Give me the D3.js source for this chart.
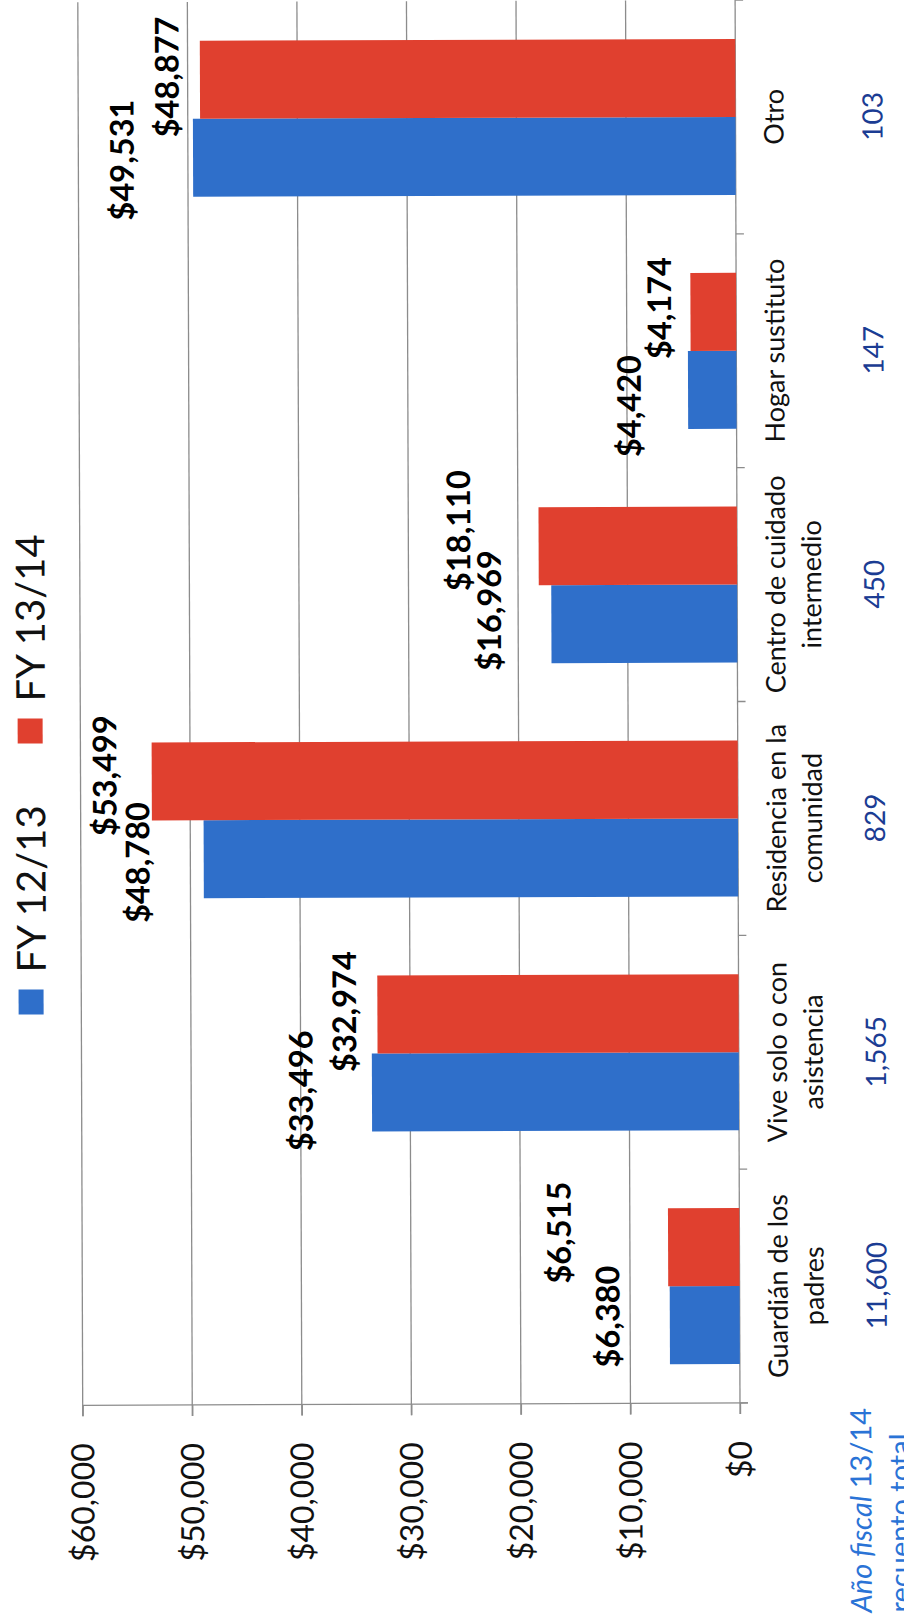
<!DOCTYPE html>
<html>
<head>
<meta charset="utf-8">
<script src="https://cdn.jsdelivr.net/npm/d3@7"></script>
<style>
  html, body { margin: 0; padding: 0; background: #ffffff; }
  svg { display: block; }
  text { font-family: Lato, "Open Sans", "Noto Sans", sans-serif; }
</style>
</head>
<body>
<svg id="chart" width="904" height="1621"></svg>
<script>
// Living arrangement categories, listed from the bottom of the chart to the top
const categories = [
  "Guardián de los padres",
  "Vive solo o con asistencia",
  "Residencia en la comunidad",
  "Centro de cuidado intermedio",
  "Hogar sustituto",
  "Otro"
];
const categoryLines = [
  ["Guardián de los", "padres"],
  ["Vive solo o con", "asistencia"],
  ["Residencia en la", "comunidad"],
  ["Centro de cuidado", "intermedio"],
  ["Hogar sustituto"],
  ["Otro"]
];
// Average cost per person, by fiscal year
const seriesNames = ["FY 12/13", "FY 13/14"];
const fy1213 = [6380, 33496, 48780, 16969, 4420, 49531];
const fy1314 = [6515, 32974, 53499, 18110, 4174, 48877];
// FY 13/14 total headcount per category
const totalCounts = ["11,600", "1,565", "829", "450", "147", "103"];
// Value axis ticks
const tickValues = [0, 10000, 20000, 30000, 40000, 50000, 60000];
const countTitle = ["Año fiscal", " 13/14"];
const countTitle2 = "recuento total";

// ---- layout ----
const colors = { "FY 12/13": "#2f6fca", "FY 13/14": "#e0402f" };
const gridColor = "#8c8c8c";
const axisY = 1403;      // value axis baseline
const plotTop = 0;

// label offsets relative to bar end / bar centre: [dx, dy]
const shift1213 = [[-62, -9], [-71, -2], [-66, 3], [-62, -14], [-59, 16], [-71, 2]];
const shift1314 = [[-109, -15], [-33, -3], [-47, -6], [-80, -16], [-31, -4], [-33, -3]];

const svg = d3.select("#chart");
const root = svg.append("g").attr("transform", "rotate(-0.2,740,1403)");

const x = d3.scaleLinear().domain([0, 60000]).range([740, 82.7]);
const y = d3.scaleBand().domain(categories).range([axisY, plotTop])
  .paddingInner(0.333).paddingOuter(0.1665);
const sub = d3.scaleBand().domain(seriesNames).range([y.bandwidth(), 0]);

const fmt = v => "$" + d3.format(",")(v);
const capRatio = 0.7165;

function vText(g, str, bx, cy, size, anchor) {
  return g.append("text")
    .attr("transform", `translate(${bx},${cy}) rotate(-90)`)
    .attr("text-anchor", anchor || "middle")
    .style("font-size", size + "px")
    .text(str);
}

// ---- gridlines (vertical in the rotated layout) ----
const grid = root.append("g");
grid.selectAll("line")
  .data(tickValues.filter(t => t > 0))
  .join("line")
  .attr("x1", d => x(d)).attr("x2", d => x(d))
  .attr("y1", plotTop).attr("y2", axisY + 11)
  .attr("stroke", gridColor).attr("stroke-width", 1.3);

// ---- value axis ----
const xAxis = d3.axisBottom(x).tickValues(tickValues).tickSize(11).tickFormat("");
const xg = root.append("g").attr("transform", `translate(0,${axisY})`).call(xAxis);
xg.select(".domain").attr("d", `M${x(60000)},0H${x(0) + 8}`).attr("stroke", gridColor).attr("stroke-width", 1.3);
xg.selectAll(".tick line").attr("stroke", gridColor).attr("stroke-width", 1.3);

const tickSize = 32;
const tickLabels = root.append("g");
tickValues.forEach(t => {
  vText(tickLabels, fmt(t), x(t) + tickSize * capRatio / 2, 1441, tickSize, "end")
    .attr("fill", "#111");
});

// ---- category axis ----
root.append("line")
  .attr("x1", x(0)).attr("x2", x(0))
  .attr("y1", plotTop).attr("y2", axisY + 11)
  .attr("stroke", gridColor).attr("stroke-width", 1.3);
const boundaries = d3.range(categories.length + 1).map(i => axisY - i * y.step());
root.append("g").selectAll("line")
  .data(boundaries)
  .join("line")
  .attr("x1", x(0)).attr("x2", x(0) + 8)
  .attr("y1", d => d).attr("y2", d => d)
  .attr("stroke", gridColor).attr("stroke-width", 1.3);

// ---- bars ----
const barData = [];
categories.forEach((c, i) => {
  barData.push({ cat: c, series: "FY 12/13", value: fy1213[i], shift: shift1213[i] });
  barData.push({ cat: c, series: "FY 13/14", value: fy1314[i], shift: shift1314[i] });
});

root.append("g").selectAll("rect")
  .data(barData)
  .join("rect")
  .attr("x", d => x(d.value))
  .attr("width", d => x(0) - x(d.value))
  .attr("y", d => y(d.cat) + sub(d.series))
  .attr("height", sub.bandwidth())
  .attr("fill", d => colors[d.series]);

// ---- value labels ----
const valSize = 32.5;
const vl = root.append("g");
barData.forEach(d => {
  const cx = x(d.value) + d.shift[0];
  const cy = y(d.cat) + sub(d.series) + sub.bandwidth() / 2 + d.shift[1];
  vText(vl, fmt(d.value), cx + valSize * capRatio / 2, cy, valSize)
    .attr("fill", "#000").style("font-weight", 700);
});

// ---- category labels ----
const catSize = 27;
const cl = root.append("g");
categories.forEach((c, i) => {
  const cy = y(c) + y.bandwidth() / 2;
  categoryLines[i].forEach((line, j) => {
    vText(cl, line, 788 + j * 36, cy, catSize).attr("fill", "#111");
  });
});

// ---- headcount row ----
const cntSize = 28;
const cg = root.append("g");
categories.forEach((c, i) => {
  const cy = y(c) + y.bandwidth() / 2;
  vText(cg, totalCounts[i], 887, cy, cntSize).attr("fill", "#1b3c93");
});

const ttl = root.append("text")
  .attr("transform", `translate(871,1613) rotate(-90)`)
  .attr("text-anchor", "start")
  .style("font-size", "29px")
  .attr("fill", "#2a73d6");
ttl.append("tspan").style("font-style", "italic").text(countTitle[0]);
ttl.append("tspan").text(countTitle[1]);
vText(root, countTitle2, 910, 1613, 29, "start").attr("fill", "#2a73d6");

// ---- legend ----
const legSize = 40;
const legend = root.append("g");
const legendPos = { "FY 12/13": 987, "FY 13/14": 716 };
seriesNames.forEach(s => {
  const top = legendPos[s];
  legend.append("rect")
    .attr("x", 20).attr("y", top).attr("width", 25).attr("height", 25)
    .attr("fill", colors[s]);
  vText(legend, s, 33 + legSize * capRatio / 2, top - 17, legSize, "start").attr("fill", "#111");
});
</script>
</body>
</html>
